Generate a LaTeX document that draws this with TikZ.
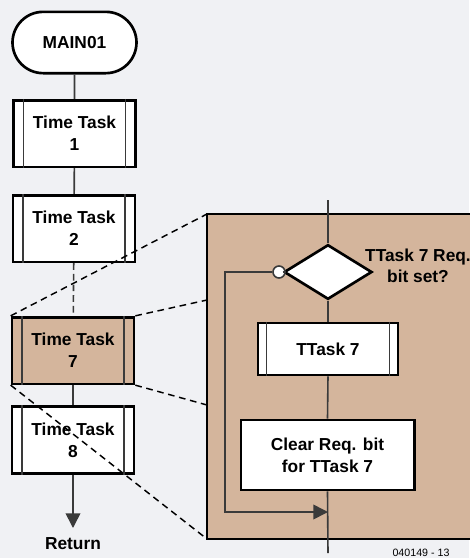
\documentclass[tikz,border=0pt]{standalone}
\usepackage{fontspec}
\setmainfont{Liberation Sans}
\usetikzlibrary{shapes.misc,shapes.geometric,arrows.meta}
\definecolor{tan}{HTML}{D4B59C}
\definecolor{bgc}{HTML}{F0F1F4}
\definecolor{conn}{HTML}{3A3A3A}
\tikzset{
  box/.style={draw=black,line width=2pt,fill=white,align=center,inner sep=0pt,
    font=\fontsize{13}{16.5}\selectfont\bfseries},
  proc/.style={box,minimum width=91.5pt,minimum height=50pt},
  term/.style={box,rounded rectangle,minimum width=93pt,minimum height=46pt},
  conline/.style={draw=conn,line width=1.2pt},
  dash line/.style={draw=black,line width=1.1pt,dash pattern=on 5pt off 3.5pt},
  tri/.style={-{Triangle[length=11pt,width=11pt]},conline},
}
\newcommand{\innerbars}[2]{%
  \draw[line width=1.1pt,draw=conn] ([xshift=#2]#1.north west) -- ([xshift=#2]#1.south west);
  \draw[line width=1.1pt,draw=conn] ([xshift=-#2]#1.north east) -- ([xshift=-#2]#1.south east);}
\begin{document}
\begin{tikzpicture}[x=0.75pt,y=-0.75pt]
\useasboundingbox (0,0) rectangle (469,558);
\fill[bgc] (0,0) rectangle (469,558);
% left column
\node[term] (m) at (74.5,42.5) {MAIN01};
\node[proc] (t1) at (74.5,133.5) {Time Task\\1};
\node[proc] (t2) at (74,228.5) {Time Task\\2};
\node[proc,fill=tan] (t7) at (73,350.5) {Time Task\\7};
\node[proc] (t8) at (73,440) {Time Task\\8};
\innerbars{t1}{8.5pt}
\innerbars{t2}{8.5pt}
\innerbars{t7}{8.5pt}
\innerbars{t8}{8.5pt}
\node[font=\fontsize{13}{16}\selectfont\bfseries,inner sep=0pt] (ret) at (73,544) {Return};
\coordinate (rtip) at (73,528);
\draw[conline] (m) -- (t1);
\draw[conline] (t1) -- (t2);
\draw[conline,dash pattern=on 5pt off 3pt] (t2) -- (t7);
\draw[conline] (t7) -- (t8);
\draw[tri] (t8) -- (rtip);
% zoom panel
\coordinate (pTL) at (207,214);
\coordinate (pUL) at (207,300);
\coordinate (pLL) at (207,405);
\coordinate (pBL) at (207,539);
\draw[dash line] (t7.north west) -- (pTL);
\draw[dash line] (t7.north east) -- (pUL);
\draw[dash line] (t7.south east) -- (pLL);
\draw[dash line] (t7.south west) -- (pBL);
\draw[fill=tan,line width=2pt] (207,214) -- (490,214) -- (490,539) -- (207,539) -- cycle;
% right flow
\coordinate (ctop) at (328,200);
\coordinate (cbot) at (328,553);
\node[draw=black,line width=2pt,fill=white,diamond,minimum width=66pt,minimum height=41pt,inner sep=0pt] (d) at (328,272) {};
\node[proc,minimum width=105pt,minimum height=39pt] (tt) at (328,349) {TTask 7};
\innerbars{tt}{7.5pt}
\node[box,minimum width=130pt,minimum height=52.5pt] (cl) at (327.5,455) {Clear Req. bit\\for TTask 7};
\node[font=\fontsize{13}{16}\selectfont\bfseries,align=center,inner sep=0pt] (q) at (418,266) {TTask 7 Req.\\bit set?};
\node[circle,draw=conn,line width=1.2pt,fill=white,minimum size=9pt,inner sep=0pt] (o) at (279,272) {};
\coordinate (lc1) at (225,272);
\coordinate (lc2) at (225,512);
\coordinate (lend) at (328,512);
\draw[conline] (ctop) -- (d.north);
\draw[conline] (d.south) -- (tt.north);
\draw[conline] (tt.south) -- (cl.north);
\draw[conline] (cl.south) -- (cbot);
\draw[conline] (d.west) -- (o.east);
\draw[tri] (o.west) -- (lc1) -- (lc2) -- (lend);
\node[font=\fontsize{8}{9}\selectfont,inner sep=0pt] (cap) at (421,553) {040149 - 13};
\end{tikzpicture}
\end{document}
